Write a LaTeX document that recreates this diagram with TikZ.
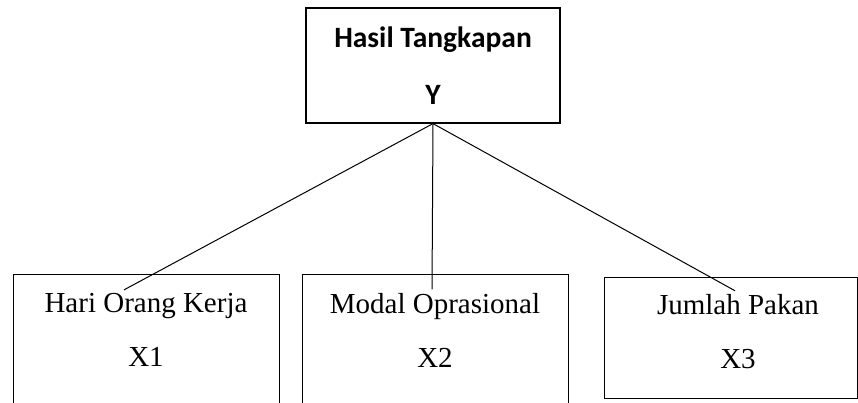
\documentclass[tikz,border=0pt]{standalone}
\usepackage{fontspec}
\setmainfont{Liberation Serif}
\newfontfamily\calibrifont{Carlito}
\tikzset{box/.style = {draw, line width=1.2pt, inner sep=0pt},
         var text/.style = {align=center, font=\fontsize{29}{54}\selectfont},
         link/.style = {line width=1pt}}

\begin{document}
\begin{tikzpicture}[x=1pt, y=-1pt]
      \clip (0,0) rectangle (858,403);
      % dependent variable
      \node [box, minimum width=254, minimum height=115, align=center,
             font=\calibrifont\bfseries\fontsize{29.5}{57}\selectfont] (hasil) at (433,65.5) {Hasil Tangkapan\\Y};
      % independent variables
      \node [box, anchor=north west, minimum width=266, minimum height=200] (boxhok) at (13,274) {};
      \node [box, anchor=north west, minimum width=266, minimum height=200] (boxmo) at (302,274) {};
      \node [box, anchor=north west, minimum width=253, minimum height=121] (boxjp) at (604,277) {};
      \node [var text] (hok) at (146,330) {Hari Orang Kerja\\X1};
      \node [var text] (mo) at (435,330) {Modal Oprasional\\X2};
      \node [var text] (jp) at (738,331.5) {Jumlah Pakan\\X3};
      \draw [link] (hasil.south) -- ([xshift=-22pt]hok.north);
      \draw [link] (hasil.south) -- ([xshift=-3pt]mo.north);
      \draw [link] (hasil.south) -- ([xshift=-3pt]jp.north);
\end{tikzpicture}
\end{document}
